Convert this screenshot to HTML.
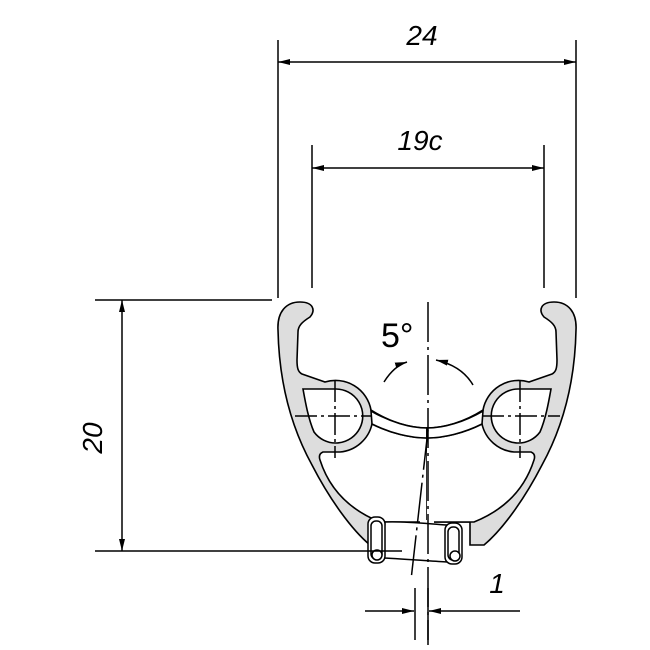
<!DOCTYPE html>
<html><head><meta charset="utf-8"><style>html,body{margin:0;padding:0;background:#fff}svg{display:block}</style></head>
<body>
<svg width="650" height="650" viewBox="0 0 650 650" xmlns="http://www.w3.org/2000/svg">
<defs>
<marker id="ar" viewBox="0 0 12 6" refX="12" refY="3" markerWidth="12" markerHeight="6" orient="auto-start-reverse" markerUnits="userSpaceOnUse"><path d="M0,0 L12,3 L0,6 Z" fill="#000"/></marker>
<g id="half">
<path d="M310,317 C316,310 313,302 300,302 C286,302 277,312 278,330 C279,380 290,425 312,465 C330,500 352,530 370,545 L384,545 L384,522 L427,522 L427,428 C410,428 390,422 371,410 A36,36 0 0 0 325,382 L302,374 C298,372 297,368 297,360 L298,332 C298,326 302,322 310,317 Z" fill="#ddd" stroke="#000" stroke-width="1.6"/>
<path d="M427,438 C410,438 390,433 372,424 A36,36 0 0 1 340,452 L323,452 Q318,454 320,460 C328,485 345,508 380,522 L427,522" fill="#fff" stroke="#000" stroke-width="1.6"/>
<path d="M371,411 C390,422 410,428 427,428 L427,438 C410,438 390,433 372,424 Z" fill="#fff" stroke="#000" stroke-width="1.6"/>
<path d="M303,389 L336,389 A27,27 0 1 1 314,432 C308,418 305,400 303,389 Z" fill="#fff" stroke="#000" stroke-width="1.6"/>
</g>
</defs>
<use href="#half"/>
<use href="#half" transform="translate(854,0) scale(-1,1)"/>
<rect x="420" y="520" width="14" height="45" fill="#fff"/>
<g fill="#fff" stroke="#000" stroke-width="1.5">
<path d="M385,522 C405,521 430,524 447,525 L447,562 C430,561 405,559 383,558 Z"/>
<rect x="368" y="517" width="17" height="46" rx="7"/>
<rect x="371" y="521" width="11" height="38" rx="5"/>
<circle cx="377" cy="555" r="5"/>
<rect x="445" y="523" width="17" height="41" rx="7"/>
<rect x="448" y="527" width="11" height="33" rx="5"/>
<circle cx="455" cy="556" r="5"/>
</g>
<g stroke="#000" stroke-width="1.5" fill="none">
<line x1="278" y1="40" x2="278" y2="298"/><line x1="576" y1="40" x2="576" y2="298"/>
<line x1="278" y1="62" x2="576" y2="62" marker-start="url(#ar)" marker-end="url(#ar)"/>
<line x1="312" y1="145" x2="312" y2="288"/><line x1="544" y1="145" x2="544" y2="288"/>
<line x1="312" y1="168" x2="544" y2="168" marker-start="url(#ar)" marker-end="url(#ar)"/>
<line x1="95" y1="300" x2="272" y2="300"/><line x1="95" y1="551" x2="402" y2="551"/>
<line x1="122" y1="300" x2="122" y2="551" marker-start="url(#ar)" marker-end="url(#ar)"/>
<line x1="428" y1="302" x2="428" y2="645" stroke-dasharray="40,5,3,5"/>
<line x1="428" y1="430" x2="411" y2="580" stroke-dasharray="40,5,3,5"/>
<line x1="295" y1="416" x2="372" y2="416" stroke-dasharray="22,4,3,4"/>
<line x1="482" y1="416" x2="560" y2="416" stroke-dasharray="22,4,3,4"/>
<line x1="335" y1="380" x2="335" y2="458" stroke-dasharray="22,4,3,4"/>
<line x1="520" y1="380" x2="520" y2="458" stroke-dasharray="22,4,3,4"/>
<line x1="415" y1="588" x2="415" y2="640"/>
<line x1="428" y1="588" x2="428" y2="640"/>
<line x1="365" y1="611" x2="414" y2="611" marker-end="url(#ar)"/>
<line x1="520" y1="611" x2="429" y2="611" marker-end="url(#ar)"/>
<path d="M384,382 Q394,366 407,362" marker-end="url(#ar)"/>
<path d="M473,385 Q462,366 436,360" marker-end="url(#ar)"/>
</g>
<g font-family="Liberation Sans, sans-serif" font-style="italic" fill="#000">
<text x="422" y="45" font-size="28" text-anchor="middle">24</text>
<text x="420" y="150" font-size="28" text-anchor="middle">19c</text>
<text x="102" y="438" font-size="28" text-anchor="middle" transform="rotate(-90 102 438)">20</text>
<text x="497" y="593" font-size="28" text-anchor="middle">1</text>
<text x="381" y="347" font-size="34" font-style="normal">5°</text>
</g>
</svg>
</body></html>
